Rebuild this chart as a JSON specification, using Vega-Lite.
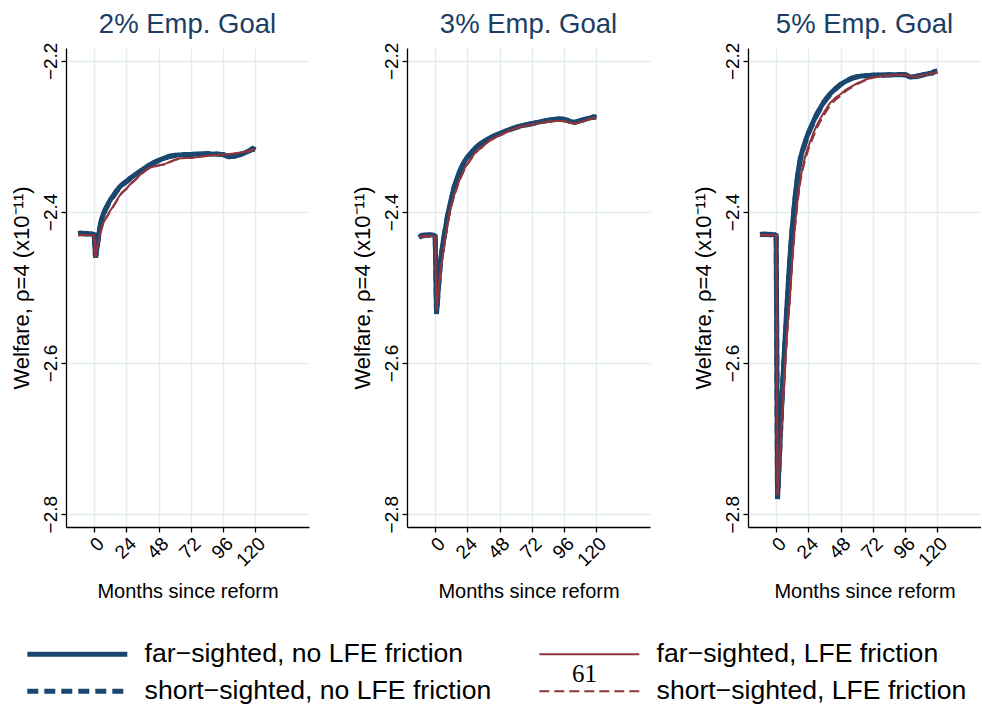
{
"$schema": "https://vega.github.io/schema/vega-lite/v6.json",
"background": "white",
"padding": {"left": 10, "top": 10, "right": 0, "bottom": 0},
"data": {"values": [
{"p":1,"m":-12,"a":-2.4285,"b":-2.4292,"c":-2.4305,"d":-2.4310},
{"p":1,"m":-10,"a":-2.4280,"b":-2.4286,"c":-2.4305,"d":-2.4308},
{"p":1,"m":-8,"a":-2.4290,"b":-2.4283,"c":-2.4306,"d":-2.4309},
{"p":1,"m":-6,"a":-2.4283,"b":-2.4290,"c":-2.4307,"d":-2.4310},
{"p":1,"m":-4,"a":-2.4292,"b":-2.4286,"c":-2.4308,"d":-2.4311},
{"p":1,"m":-2,"a":-2.4288,"b":-2.4294,"c":-2.4309,"d":-2.4312},
{"p":1,"m":-1,"a":-2.4295,"b":-2.4290,"c":-2.4310,"d":-2.4312},
{"p":1,"m":0,"a":-2.4300,"b":-2.4302,"c":-2.4315,"d":-2.4318},
{"p":1,"m":1,"a":-2.4600,"b":-2.4605,"c":-2.4590,"d":-2.4595},
{"p":1,"m":2,"a":-2.4480,"b":-2.4490,"c":-2.4480,"d":-2.4488},
{"p":1,"m":3,"a":-2.4350,"b":-2.4362,"c":-2.4397,"d":-2.4405},
{"p":1,"m":4,"a":-2.4230,"b":-2.4242,"c":-2.4310,"d":-2.4318},
{"p":1,"m":5,"a":-2.4132,"b":-2.4145,"c":-2.4243,"d":-2.4252},
{"p":1,"m":6,"a":-2.4070,"b":-2.4080,"c":-2.4190,"d":-2.4198},
{"p":1,"m":7,"a":-2.4020,"b":-2.4032,"c":-2.4140,"d":-2.4150},
{"p":1,"m":8,"a":-2.3975,"b":-2.3985,"c":-2.4100,"d":-2.4108},
{"p":1,"m":9,"a":-2.3940,"b":-2.3950,"c":-2.4070,"d":-2.4078},
{"p":1,"m":10,"a":-2.3905,"b":-2.3915,"c":-2.4044,"d":-2.4052},
{"p":1,"m":11,"a":-2.3870,"b":-2.3882,"c":-2.4010,"d":-2.4018},
{"p":1,"m":12,"a":-2.3840,"b":-2.3850,"c":-2.3980,"d":-2.3988},
{"p":1,"m":14,"a":-2.3790,"b":-2.3800,"c":-2.3930,"d":-2.3938},
{"p":1,"m":16,"a":-2.3735,"b":-2.3746,"c":-2.3870,"d":-2.3878},
{"p":1,"m":18,"a":-2.3690,"b":-2.3700,"c":-2.3810,"d":-2.3818},
{"p":1,"m":20,"a":-2.3650,"b":-2.3660,"c":-2.3757,"d":-2.3765},
{"p":1,"m":22,"a":-2.3620,"b":-2.3628,"c":-2.3720,"d":-2.3728},
{"p":1,"m":24,"a":-2.3594,"b":-2.3602,"c":-2.3691,"d":-2.3698},
{"p":1,"m":27,"a":-2.3550,"b":-2.3558,"c":-2.3630,"d":-2.3637},
{"p":1,"m":30,"a":-2.3514,"b":-2.3520,"c":-2.3580,"d":-2.3586},
{"p":1,"m":33,"a":-2.3475,"b":-2.3482,"c":-2.3530,"d":-2.3536},
{"p":1,"m":36,"a":-2.3440,"b":-2.3446,"c":-2.3480,"d":-2.3486},
{"p":1,"m":40,"a":-2.3390,"b":-2.3396,"c":-2.3426,"d":-2.3431},
{"p":1,"m":44,"a":-2.3350,"b":-2.3356,"c":-2.3400,"d":-2.3404},
{"p":1,"m":48,"a":-2.3316,"b":-2.3320,"c":-2.3382,"d":-2.3385},
{"p":1,"m":52,"a":-2.3290,"b":-2.3294,"c":-2.3370,"d":-2.3372},
{"p":1,"m":56,"a":-2.3262,"b":-2.3266,"c":-2.3340,"d":-2.3342},
{"p":1,"m":60,"a":-2.3250,"b":-2.3252,"c":-2.3310,"d":-2.3312},
{"p":1,"m":64,"a":-2.3245,"b":-2.3247,"c":-2.3290,"d":-2.3292},
{"p":1,"m":68,"a":-2.3240,"b":-2.3243,"c":-2.3285,"d":-2.3287},
{"p":1,"m":72,"a":-2.3241,"b":-2.3238,"c":-2.3285,"d":-2.3286},
{"p":1,"m":76,"a":-2.3232,"b":-2.3236,"c":-2.3275,"d":-2.3276},
{"p":1,"m":80,"a":-2.3236,"b":-2.3232,"c":-2.3265,"d":-2.3266},
{"p":1,"m":84,"a":-2.3227,"b":-2.3231,"c":-2.3258,"d":-2.3259},
{"p":1,"m":88,"a":-2.3235,"b":-2.3230,"c":-2.3250,"d":-2.3251},
{"p":1,"m":92,"a":-2.3232,"b":-2.3236,"c":-2.3245,"d":-2.3246},
{"p":1,"m":96,"a":-2.3241,"b":-2.3238,"c":-2.3241,"d":-2.3242},
{"p":1,"m":100,"a":-2.3270,"b":-2.3266,"c":-2.3235,"d":-2.3236},
{"p":1,"m":104,"a":-2.3262,"b":-2.3265,"c":-2.3227,"d":-2.3228},
{"p":1,"m":108,"a":-2.3245,"b":-2.3242,"c":-2.3215,"d":-2.3216},
{"p":1,"m":112,"a":-2.3220,"b":-2.3224,"c":-2.3205,"d":-2.3206},
{"p":1,"m":116,"a":-2.3185,"b":-2.3189,"c":-2.3190,"d":-2.3191},
{"p":1,"m":118,"a":-2.3160,"b":-2.3165,"c":-2.3180,"d":-2.3181},
{"p":1,"m":120,"a":-2.3180,"b":-2.3176,"c":-2.3170,"d":-2.3171},
{"p":2,"m":-12,"a":-2.4340,"b":-2.4325,"c":-2.4330,"d":-2.4335},
{"p":2,"m":-10,"a":-2.4310,"b":-2.4318,"c":-2.4322,"d":-2.4326},
{"p":2,"m":-8,"a":-2.4305,"b":-2.4312,"c":-2.4318,"d":-2.4322},
{"p":2,"m":-6,"a":-2.4310,"b":-2.4304,"c":-2.4320,"d":-2.4324},
{"p":2,"m":-4,"a":-2.4300,"b":-2.4308,"c":-2.4318,"d":-2.4322},
{"p":2,"m":-2,"a":-2.4305,"b":-2.4300,"c":-2.4320,"d":-2.4323},
{"p":2,"m":-1,"a":-2.4310,"b":-2.4306,"c":-2.4322,"d":-2.4325},
{"p":2,"m":0,"a":-2.4320,"b":-2.4322,"c":-2.4330,"d":-2.4333},
{"p":2,"m":1,"a":-2.5345,"b":-2.5350,"c":-2.5300,"d":-2.5310},
{"p":2,"m":2,"a":-2.5100,"b":-2.5110,"c":-2.5100,"d":-2.5112},
{"p":2,"m":3,"a":-2.4860,"b":-2.4872,"c":-2.4920,"d":-2.4932},
{"p":2,"m":4,"a":-2.4640,"b":-2.4652,"c":-2.4780,"d":-2.4792},
{"p":2,"m":5,"a":-2.4510,"b":-2.4522,"c":-2.4650,"d":-2.4662},
{"p":2,"m":6,"a":-2.4390,"b":-2.4402,"c":-2.4530,"d":-2.4542},
{"p":2,"m":7,"a":-2.4280,"b":-2.4292,"c":-2.4410,"d":-2.4422},
{"p":2,"m":8,"a":-2.4180,"b":-2.4192,"c":-2.4300,"d":-2.4312},
{"p":2,"m":9,"a":-2.4065,"b":-2.4078,"c":-2.4180,"d":-2.4192},
{"p":2,"m":10,"a":-2.3985,"b":-2.3998,"c":-2.4080,"d":-2.4092},
{"p":2,"m":11,"a":-2.3905,"b":-2.3918,"c":-2.3990,"d":-2.4002},
{"p":2,"m":12,"a":-2.3830,"b":-2.3843,"c":-2.3910,"d":-2.3922},
{"p":2,"m":14,"a":-2.3675,"b":-2.3690,"c":-2.3785,"d":-2.3797},
{"p":2,"m":16,"a":-2.3570,"b":-2.3586,"c":-2.3680,"d":-2.3692},
{"p":2,"m":18,"a":-2.3470,"b":-2.3486,"c":-2.3580,"d":-2.3592},
{"p":2,"m":20,"a":-2.3390,"b":-2.3406,"c":-2.3500,"d":-2.3512},
{"p":2,"m":22,"a":-2.3325,"b":-2.3340,"c":-2.3420,"d":-2.3432},
{"p":2,"m":24,"a":-2.3272,"b":-2.3286,"c":-2.3360,"d":-2.3371},
{"p":2,"m":27,"a":-2.3210,"b":-2.3222,"c":-2.3285,"d":-2.3295},
{"p":2,"m":30,"a":-2.3150,"b":-2.3162,"c":-2.3210,"d":-2.3219},
{"p":2,"m":33,"a":-2.3105,"b":-2.3115,"c":-2.3160,"d":-2.3168},
{"p":2,"m":36,"a":-2.3070,"b":-2.3078,"c":-2.3125,"d":-2.3132},
{"p":2,"m":40,"a":-2.3028,"b":-2.3035,"c":-2.3060,"d":-2.3066},
{"p":2,"m":44,"a":-2.2990,"b":-2.2996,"c":-2.3020,"d":-2.3025},
{"p":2,"m":48,"a":-2.2962,"b":-2.2967,"c":-2.2985,"d":-2.2989},
{"p":2,"m":52,"a":-2.2932,"b":-2.2936,"c":-2.2950,"d":-2.2953},
{"p":2,"m":56,"a":-2.2905,"b":-2.2909,"c":-2.2918,"d":-2.2921},
{"p":2,"m":60,"a":-2.2880,"b":-2.2883,"c":-2.2890,"d":-2.2892},
{"p":2,"m":64,"a":-2.2860,"b":-2.2863,"c":-2.2870,"d":-2.2872},
{"p":2,"m":68,"a":-2.2845,"b":-2.2847,"c":-2.2855,"d":-2.2857},
{"p":2,"m":72,"a":-2.2830,"b":-2.2833,"c":-2.2843,"d":-2.2844},
{"p":2,"m":76,"a":-2.2815,"b":-2.2818,"c":-2.2830,"d":-2.2831},
{"p":2,"m":80,"a":-2.2800,"b":-2.2803,"c":-2.2815,"d":-2.2816},
{"p":2,"m":84,"a":-2.2786,"b":-2.2790,"c":-2.2805,"d":-2.2806},
{"p":2,"m":88,"a":-2.2775,"b":-2.2779,"c":-2.2800,"d":-2.2801},
{"p":2,"m":92,"a":-2.2766,"b":-2.2770,"c":-2.2795,"d":-2.2796},
{"p":2,"m":96,"a":-2.2775,"b":-2.2772,"c":-2.2799,"d":-2.2800},
{"p":2,"m":100,"a":-2.2800,"b":-2.2796,"c":-2.2815,"d":-2.2816},
{"p":2,"m":104,"a":-2.2815,"b":-2.2811,"c":-2.2830,"d":-2.2831},
{"p":2,"m":108,"a":-2.2790,"b":-2.2794,"c":-2.2810,"d":-2.2811},
{"p":2,"m":112,"a":-2.2770,"b":-2.2774,"c":-2.2790,"d":-2.2791},
{"p":2,"m":116,"a":-2.2752,"b":-2.2756,"c":-2.2765,"d":-2.2766},
{"p":2,"m":118,"a":-2.2740,"b":-2.2744,"c":-2.2755,"d":-2.2756},
{"p":2,"m":120,"a":-2.2750,"b":-2.2746,"c":-2.2755,"d":-2.2756},
{"p":3,"m":-12,"a":-2.4295,"b":-2.4302,"c":-2.4305,"d":-2.4309},
{"p":3,"m":-10,"a":-2.4300,"b":-2.4294,"c":-2.4306,"d":-2.4310},
{"p":3,"m":-8,"a":-2.4292,"b":-2.4299,"c":-2.4305,"d":-2.4309},
{"p":3,"m":-6,"a":-2.4301,"b":-2.4295,"c":-2.4307,"d":-2.4311},
{"p":3,"m":-4,"a":-2.4296,"b":-2.4303,"c":-2.4306,"d":-2.4310},
{"p":3,"m":-2,"a":-2.4302,"b":-2.4297,"c":-2.4308,"d":-2.4312},
{"p":3,"m":-1,"a":-2.4300,"b":-2.4304,"c":-2.4308,"d":-2.4312},
{"p":3,"m":0,"a":-2.4310,"b":-2.4312,"c":-2.4310,"d":-2.4314},
{"p":3,"m":1,"a":-2.7800,"b":-2.7790,"c":-2.7750,"d":-2.7740},
{"p":3,"m":2,"a":-2.7400,"b":-2.7410,"c":-2.7450,"d":-2.7460},
{"p":3,"m":3,"a":-2.7000,"b":-2.7015,"c":-2.7150,"d":-2.7165},
{"p":3,"m":4,"a":-2.6600,"b":-2.6618,"c":-2.6850,"d":-2.6868},
{"p":3,"m":5,"a":-2.6220,"b":-2.6240,"c":-2.6520,"d":-2.6540},
{"p":3,"m":6,"a":-2.5880,"b":-2.5900,"c":-2.6180,"d":-2.6202},
{"p":3,"m":7,"a":-2.5560,"b":-2.5580,"c":-2.5880,"d":-2.5904},
{"p":3,"m":8,"a":-2.5250,"b":-2.5270,"c":-2.5620,"d":-2.5645},
{"p":3,"m":9,"a":-2.4950,"b":-2.4970,"c":-2.5400,"d":-2.5425},
{"p":3,"m":10,"a":-2.4670,"b":-2.4690,"c":-2.5200,"d":-2.5225},
{"p":3,"m":11,"a":-2.4420,"b":-2.4440,"c":-2.4920,"d":-2.4948},
{"p":3,"m":12,"a":-2.4200,"b":-2.4220,"c":-2.4630,"d":-2.4660},
{"p":3,"m":14,"a":-2.3820,"b":-2.3840,"c":-2.4180,"d":-2.4212},
{"p":3,"m":16,"a":-2.3510,"b":-2.3530,"c":-2.3830,"d":-2.3865},
{"p":3,"m":18,"a":-2.3290,"b":-2.3310,"c":-2.3560,"d":-2.3597},
{"p":3,"m":20,"a":-2.3160,"b":-2.3178,"c":-2.3380,"d":-2.3420},
{"p":3,"m":22,"a":-2.3050,"b":-2.3066,"c":-2.3240,"d":-2.3282},
{"p":3,"m":24,"a":-2.2950,"b":-2.2965,"c":-2.3130,"d":-2.3172},
{"p":3,"m":27,"a":-2.2830,"b":-2.2844,"c":-2.2990,"d":-2.3032},
{"p":3,"m":30,"a":-2.2710,"b":-2.2723,"c":-2.2860,"d":-2.2900},
{"p":3,"m":33,"a":-2.2620,"b":-2.2631,"c":-2.2760,"d":-2.2798},
{"p":3,"m":36,"a":-2.2530,"b":-2.2540,"c":-2.2670,"d":-2.2705},
{"p":3,"m":40,"a":-2.2440,"b":-2.2448,"c":-2.2560,"d":-2.2592},
{"p":3,"m":44,"a":-2.2370,"b":-2.2376,"c":-2.2490,"d":-2.2518},
{"p":3,"m":48,"a":-2.2310,"b":-2.2315,"c":-2.2440,"d":-2.2462},
{"p":3,"m":52,"a":-2.2270,"b":-2.2274,"c":-2.2380,"d":-2.2398},
{"p":3,"m":56,"a":-2.2230,"b":-2.2234,"c":-2.2340,"d":-2.2354},
{"p":3,"m":60,"a":-2.2210,"b":-2.2213,"c":-2.2300,"d":-2.2310},
{"p":3,"m":64,"a":-2.2200,"b":-2.2203,"c":-2.2270,"d":-2.2277},
{"p":3,"m":68,"a":-2.2195,"b":-2.2197,"c":-2.2240,"d":-2.2245},
{"p":3,"m":72,"a":-2.2190,"b":-2.2192,"c":-2.2220,"d":-2.2223},
{"p":3,"m":76,"a":-2.2185,"b":-2.2189,"c":-2.2210,"d":-2.2212},
{"p":3,"m":80,"a":-2.2190,"b":-2.2186,"c":-2.2200,"d":-2.2201},
{"p":3,"m":84,"a":-2.2182,"b":-2.2186,"c":-2.2190,"d":-2.2191},
{"p":3,"m":88,"a":-2.2185,"b":-2.2182,"c":-2.2188,"d":-2.2189},
{"p":3,"m":92,"a":-2.2180,"b":-2.2184,"c":-2.2185,"d":-2.2186},
{"p":3,"m":96,"a":-2.2185,"b":-2.2181,"c":-2.2183,"d":-2.2184},
{"p":3,"m":100,"a":-2.2215,"b":-2.2211,"c":-2.2205,"d":-2.2206},
{"p":3,"m":104,"a":-2.2205,"b":-2.2209,"c":-2.2210,"d":-2.2211},
{"p":3,"m":108,"a":-2.2190,"b":-2.2194,"c":-2.2195,"d":-2.2196},
{"p":3,"m":112,"a":-2.2175,"b":-2.2171,"c":-2.2180,"d":-2.2181},
{"p":3,"m":116,"a":-2.2160,"b":-2.2164,"c":-2.2165,"d":-2.2166},
{"p":3,"m":118,"a":-2.2140,"b":-2.2144,"c":-2.2155,"d":-2.2156},
{"p":3,"m":120,"a":-2.2135,"b":-2.2139,"c":-2.2150,"d":-2.2151}
]},
"transform": [{"fold": ["a", "b", "c", "d"], "as": ["series", "value"]}],
"spacing": 42,
"title": {"text": "61", "orient": "bottom", "anchor": "start", "font": "Liberation Serif", "fontSize": 25, "fontWeight": "normal", "color": "#000000", "dx": 562, "dy": -47},
"hconcat": [
{
"title": "2% Emp. Goal",
"width": 243, "height": 479,
"transform": [{"filter": "datum.p == 1"}],
"mark": {"type": "line"},
"encoding": {
"x": {"field": "m", "type": "quantitative", "scale": {"domain": [-21, 160], "nice": false, "zero": false}, "axis": {"values": [0, 24, 48, 72, 96, 120], "title": "Months since reform"}},
"y": {"field": "value", "type": "quantitative", "scale": {"domain": [-2.817, -2.183], "nice": false, "zero": false}, "axis": {"values": [-2.8, -2.6, -2.4, -2.2], "format": ".1f", "title": "Welfare, ρ=4 (x10⁻¹¹)"}},
"color": {"field": "series", "type": "nominal", "scale": {"domain": ["a", "c", "b", "d"], "range": ["#1a476f", "#90353b", "#1a476f", "#90353b"]}, "legend": {"direction": "horizontal", "columns": 2, "labelExpr": "datum.value == 'a' ? 'far−sighted, no LFE friction' : datum.value == 'b' ? 'short−sighted, no LFE friction' : datum.value == 'c' ? 'far−sighted, LFE friction' : 'short−sighted, LFE friction'"}},
"strokeDash": {"field": "series", "type": "nominal", "scale": {"domain": ["a", "c", "b", "d"], "range": [[1, 0], [1, 0], [11, 6], [10, 5]]}},
"strokeWidth": {"field": "series", "type": "nominal", "scale": {"type": "ordinal", "domain": ["a", "c", "b", "d"], "range": [5, 2, 5, 2]}}
}
},
{
"title": "3% Emp. Goal",
"width": 243, "height": 479,
"transform": [{"filter": "datum.p == 2"}],
"mark": {"type": "line"},
"encoding": {
"x": {"field": "m", "type": "quantitative", "scale": {"domain": [-21, 160], "nice": false, "zero": false}, "axis": {"values": [0, 24, 48, 72, 96, 120], "title": "Months since reform"}},
"y": {"field": "value", "type": "quantitative", "scale": {"domain": [-2.817, -2.183], "nice": false, "zero": false}, "axis": {"values": [-2.8, -2.6, -2.4, -2.2], "format": ".1f", "title": "Welfare, ρ=4 (x10⁻¹¹)"}},
"color": {"field": "series", "type": "nominal", "scale": {"domain": ["a", "c", "b", "d"], "range": ["#1a476f", "#90353b", "#1a476f", "#90353b"]}, "legend": {"direction": "horizontal", "columns": 2, "labelExpr": "datum.value == 'a' ? 'far−sighted, no LFE friction' : datum.value == 'b' ? 'short−sighted, no LFE friction' : datum.value == 'c' ? 'far−sighted, LFE friction' : 'short−sighted, LFE friction'"}},
"strokeDash": {"field": "series", "type": "nominal", "scale": {"domain": ["a", "c", "b", "d"], "range": [[1, 0], [1, 0], [11, 6], [10, 5]]}},
"strokeWidth": {"field": "series", "type": "nominal", "scale": {"type": "ordinal", "domain": ["a", "c", "b", "d"], "range": [5, 2, 5, 2]}}
}
},
{
"title": "5% Emp. Goal",
"width": 233, "height": 479,
"transform": [{"filter": "datum.p == 3"}],
"mark": {"type": "line"},
"encoding": {
"x": {"field": "m", "type": "quantitative", "scale": {"domain": [-21, 152.6], "nice": false, "zero": false}, "axis": {"values": [0, 24, 48, 72, 96, 120], "title": "Months since reform"}},
"y": {"field": "value", "type": "quantitative", "scale": {"domain": [-2.817, -2.183], "nice": false, "zero": false}, "axis": {"values": [-2.8, -2.6, -2.4, -2.2], "format": ".1f", "title": "Welfare, ρ=4 (x10⁻¹¹)"}},
"color": {"field": "series", "type": "nominal", "scale": {"domain": ["a", "c", "b", "d"], "range": ["#1a476f", "#90353b", "#1a476f", "#90353b"]}, "legend": {"direction": "horizontal", "columns": 2, "labelExpr": "datum.value == 'a' ? 'far−sighted, no LFE friction' : datum.value == 'b' ? 'short−sighted, no LFE friction' : datum.value == 'c' ? 'far−sighted, LFE friction' : 'short−sighted, LFE friction'"}},
"strokeDash": {"field": "series", "type": "nominal", "scale": {"domain": ["a", "c", "b", "d"], "range": [[1, 0], [1, 0], [11, 6], [10, 5]]}},
"strokeWidth": {"field": "series", "type": "nominal", "scale": {"type": "ordinal", "domain": ["a", "c", "b", "d"], "range": [5, 2, 5, 2]}}
}
}
],
"resolve": {"scale": {"x": "independent", "y": "independent"}},
"config": {
"font": "Liberation Sans",
"view": {"stroke": null},
"axis": {"labelFont": "Liberation Sans", "labelFontSize": 19, "labelColor": "#000000", "labelOverlap": false, "titleFont": "Liberation Sans", "titleFontSize": 20, "titleFontWeight": "normal", "titleColor": "#000000", "domainColor": "#000000", "domainWidth": 1.3, "tickColor": "#000000", "tickSize": 5, "tickWidth": 1.3, "gridColor": "#e3ecef", "gridWidth": 1.5},
"axisY": {"labelAngle": -90, "labelAlign": "center", "labelBaseline": "bottom", "labelPadding": 1, "titlePadding": 8, "titleFontSize": 22},
"axisX": {"labelAngle": -45, "titlePadding": 12},
"title": {"font": "Liberation Sans", "fontSize": 27.5, "fontWeight": "normal", "color": "#1c3d64", "offset": 0},
"legend": {"orient": "none", "legendX": -2, "legendY": 593, "title": null, "labelFont": "Liberation Sans", "labelFontSize": 26.6, "labelColor": "#000000", "labelLimit": 0, "symbolType": "M-5,0H5", "symbolSize": 400, "labelOffset": 54, "columnPadding": 43, "rowPadding": 10}
}
}
